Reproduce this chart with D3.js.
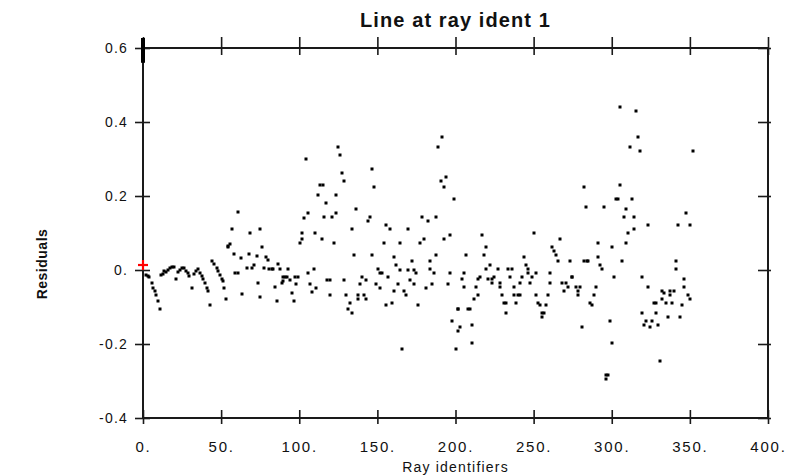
<!DOCTYPE html>
<html><head><meta charset="utf-8">
<script src="https://cdn.jsdelivr.net/npm/d3@7"></script>
<style>
html,body{margin:0;padding:0;background:#fff;}
svg text{font-family:"Liberation Sans",Arial,sans-serif;fill:#111;}
</style></head>
<body>
<svg id="chart" width="789" height="476"></svg>
<script>
const title = "Line at ray ident 1";
const xLabel = "Ray identifiers";
const yLabel = "Residuals";
const xTicks = [0, 50, 100, 150, 200, 250, 300, 350, 400];
const xTickLabels = ["0.", "50.", "100.", "150.", "200.", "250.", "300.", "350.", "400."];
const yTicks = [-0.4, -0.2, 0, 0.2, 0.4, 0.6];
const yTickLabels = ["-0.4", "-0.2", "0.", "0.2", "0.4", "0.6"];

// Highlighted (red) point
const refPoint = [0, 0.0135];
// Clipped value at the top of the range near x = 0 (drawn as a bar)
const clippedBar = [0, 0.56, 0.6];

// Residuals: [ray identifier, residual]
const groupA = [[1.7,-0.014],[3,-0.016],[4,-0.02],[5.5,-0.034],[6.6,-0.048],[7.7,-0.057],[8.3,-0.068],[9.4,-0.084],[10.9,-0.106]];
const groupB = [[11.5,-0.014],[13,-0.012],[13.4,-0.002],[14.5,-0.005],[15.8,-0.001],[17.3,0.005],[18.8,0.008],[20,0.009],[20.9,-0.025],[22.2,-0.005],[23.5,0.0],[24.7,0.006],[26.5,0.006],[27.3,-0.003],[28.6,-0.007],[29.4,-0.016],[31.1,-0.048],[32.5,-0.01],[33.7,-0.003],[35.4,0.002],[36.5,-0.007],[37.6,-0.016],[38.6,-0.025],[39.7,-0.034],[40.8,-0.048],[41.8,-0.057],[43.1,-0.095],[44.4,0.024],[45.6,0.017],[47.1,0.006],[48.2,-0.003],[49.3,-0.014],[50.3,-0.025],[51.4,-0.03],[52.1,-0.048],[53.1,-0.079]];
const groupC = [[54.2,0.065],[54.6,0.062],[55.7,0.071],[57.2,0.11],[58,0.044],[58.9,-0.007],[60.8,0.156],[61,-0.007],[62.7,0.032],[63.6,-0.066],[66.4,0.006],[68.1,0.042],[68.5,0.099],[70,0.006],[71.2,0.014],[72.7,0.038],[73.8,-0.034],[74.9,0.11],[74.9,-0.073],[76.4,0.062],[77.7,0.006],[78.7,0.035],[80.2,0.026],[80.9,0.004],[82.3,0.002],[83.4,0.002],[84.5,-0.046],[85.5,-0.084],[86.6,0.015],[87.9,0.002],[88.8,-0.034],[89.4,-0.03],[89.8,-0.02],[90.9,-0.02],[92.2,-0.02],[92.8,0.002],[94.1,-0.028],[95.6,-0.061],[96.4,-0.084],[97.3,-0.02],[97.9,-0.037],[99.4,-0.02]];
const groupD = [[191.6,0.36],[189,0.332],[125,0.332],[126,0.311],[104,0.30],[146.8,0.273],[127.4,0.262],[128.6,0.24],[190.5,0.24],[194,0.251],[192.8,0.224],[148,0.224],[113.3,0.23],[115,0.23],[112.2,0.203],[123.7,0.203],[199.2,0.192],[117.3,0.181],[136.5,0.165],[103,0.141],[105.8,0.153],[116,0.142],[121,0.142],[123.7,0.154],[144,0.132],[145.3,0.143],[178.8,0.143],[182.6,0.132],[187.7,0.143],[134,0.11],[155.5,0.121],[158.3,0.11],[169.8,0.11],[102,0.099],[101.6,0.083],[100.5,0.072],[110,0.099],[114.8,0.083],[122.4,0.072],[154.5,0.072],[164.7,0.072],[177.5,0.072],[180,0.083],[192.8,0.083],[196.7,0.094],[135.2,0.04],[146.8,0.04],[160.8,0.034],[187.7,0.04],[162,0.013],[172.3,0.024],[183.9,0.024],[109.6,0.002],[105.8,-0.009],[150.6,0.002],[151.9,-0.009],[153.1,-0.009],[164.7,0],[169.8,0],[173.6,0],[175,-0.009],[183.9,0.002],[186.4,-0.009],[196.7,-0.009],[107,-0.037],[110.7,-0.048],[108.2,-0.059],[118,-0.026],[119.7,-0.026],[128.6,-0.026],[140,-0.02],[142.9,-0.026],[139,-0.037],[157,-0.02],[163.4,-0.037],[149.3,-0.037],[151.9,-0.048],[171,-0.026],[173.6,-0.037],[181.3,-0.048],[185.2,-0.037],[195.4,-0.037],[119.7,-0.068],[130.1,-0.068],[137.8,-0.068],[137.8,-0.079],[141.6,-0.068],[142.9,-0.079],[160.8,-0.058],[167.2,-0.058],[168.5,-0.068],[132.5,-0.09],[131.2,-0.106],[134,-0.117],[155.7,-0.095],[159.6,-0.09],[176.2,-0.095],[201.8,-0.106],[198,-0.139],[201.8,-0.166],[165.9,-0.214],[200.5,-0.214]];
const groupE = [[282.4,0.224],[283.7,0.17],[217.2,0.095],[250.4,0.1],[267,0.084],[219.7,0.062],[218.4,0.04],[206.9,0.04],[262,0.062],[263.2,0.051],[264.5,0.04],[265.8,0.024],[273.5,0.024],[282.4,0.024],[284.2,0.024],[244,0.035],[222.3,0.013],[219.7,0.003],[227.4,0.003],[233.8,0.003],[236.4,0.003],[245.3,0.013],[246.6,0.003],[246.6,-0.008],[205.6,-0.008],[251.7,-0.008],[260.7,-0.008],[215.9,-0.019],[214.6,-0.024],[224.8,-0.019],[223.5,-0.024],[221,-0.024],[235.1,-0.019],[242.8,-0.019],[249.2,-0.019],[274.8,-0.019],[204.4,-0.024],[205.6,-0.046],[223.5,-0.035],[228.6,-0.035],[228.6,-0.046],[237.6,-0.046],[241.5,-0.035],[247.9,-0.035],[260.7,-0.035],[268.4,-0.035],[271,-0.035],[269.6,-0.057],[272.2,-0.046],[277.3,-0.046],[278.6,-0.057],[278.6,-0.068],[213.3,-0.046],[214.6,-0.068],[212,-0.078],[230,-0.068],[237.6,-0.068],[240.2,-0.068],[241.5,-0.068],[251.7,-0.068],[259.4,-0.068],[231.2,-0.089],[232.5,-0.089],[238.9,-0.089],[253,-0.089],[254.3,-0.095],[258.1,-0.095],[255.6,-0.116],[256.8,-0.116],[255.6,-0.127],[232.5,-0.116],[201.8,-0.105],[209.5,-0.105],[208.2,-0.105],[203.1,-0.154],[210.8,-0.149],[210.8,-0.197],[281.2,-0.154],[286.3,-0.089]];
const groupF = [[305.5,0.441],[315.7,0.43],[317,0.36],[311.9,0.332],[318.3,0.322],[352,0.322],[305.5,0.23],[302.9,0.192],[304.2,0.192],[313.1,0.192],[295.2,0.17],[309.3,0.165],[308,0.143],[314.4,0.143],[323.4,0.122],[342.6,0.122],[347.7,0.154],[350.3,0.122],[310.6,0.1],[314.4,0.111],[291.4,0.073],[300.4,0.062],[309.3,0.073],[291.4,0.035],[285,0.024],[306.8,0.024],[292.7,0.013],[294,0.003],[341.3,0.024],[341.3,0.003],[274.7,-0.019],[301.6,-0.019],[319.5,-0.019],[346.4,-0.024],[279.9,-0.046],[290.1,-0.046],[288.8,-0.068],[323.4,-0.046],[346.4,-0.046],[332.3,-0.057],[333.6,-0.062],[337.4,-0.057],[340,-0.057],[337.4,-0.068],[348.9,-0.068],[350.2,-0.078],[332.3,-0.078],[334.9,-0.089],[338.8,-0.089],[345.2,-0.095],[287.6,-0.095],[326.8,-0.089],[328.5,-0.089],[319.5,-0.116],[328.5,-0.116],[299.1,-0.138],[336.2,-0.127],[343.9,-0.127],[320.8,-0.149],[322.1,-0.138],[324.7,-0.154],[326,-0.138],[329.8,-0.149],[300.4,-0.197],[331.1,-0.246],[296.5,-0.284],[297.8,-0.284],[296.5,-0.295]];

const points = [].concat(groupA, groupB, groupC, groupD, groupE, groupF);

const svg = d3.select("#chart");
const L = 143, R = 768, T = 48, B = 418;
const x = d3.scaleLinear().domain([0, 400]).range([L, R]);
const y = d3.scaleLinear().domain([-0.4, 0.6]).range([B, T]);

const axisColor = "#1a1a1a";

// frame
const frame = svg.append("g").attr("stroke", axisColor).attr("stroke-width", 2).attr("fill", "none");
frame.append("rect").attr("x", x(0)).attr("y", y(0.6)).attr("width", x(400) - x(0)).attr("height", y(-0.4) - y(0.6));

// bottom axis (ticks crossing the frame)
const gB = svg.append("g").attr("transform", `translate(0,${B})`)
  .call(d3.axisBottom(x).tickValues(xTicks).tickSize(0).tickFormat((d, i) => xTickLabels[i]));
gB.select(".domain").remove();
gB.selectAll(".tick").append("line").attr("y1", -8).attr("y2", 6).attr("stroke", axisColor).attr("stroke-width", 1.6);
gB.selectAll("text").attr("dy", null).attr("y", 34).style("font-size", "15px").style("letter-spacing", "1.8px").attr("fill", "#222").attr("font-family", "Liberation Sans, Arial, sans-serif");

// top axis
const gT = svg.append("g").attr("transform", `translate(0,${T})`)
  .call(d3.axisTop(x).tickValues(xTicks).tickSize(0).tickFormat(""));
gT.select(".domain").remove();
gT.selectAll(".tick").append("line").attr("y1", -11).attr("y2", 7).attr("stroke", axisColor).attr("stroke-width", 1.6);

// left axis
const gL = svg.append("g").attr("transform", `translate(${L},0)`)
  .call(d3.axisLeft(y).tickValues(yTicks).tickSize(0).tickFormat((d, i) => yTickLabels[i]));
gL.select(".domain").remove();
gL.selectAll(".tick").append("line").attr("x1", -8).attr("x2", 7).attr("stroke", axisColor).attr("stroke-width", 1.6);
gL.selectAll("text").attr("x", -15).attr("dy", "0.32em").style("font-size", "14px").style("letter-spacing", "1.2px").attr("fill", "#222").attr("font-family", "Liberation Sans, Arial, sans-serif");

// right axis
const gR = svg.append("g").attr("transform", `translate(${R},0)`)
  .call(d3.axisRight(y).tickValues(yTicks).tickSize(0).tickFormat(""));
gR.select(".domain").remove();
gR.selectAll(".tick").append("line").attr("x1", -10).attr("x2", 3).attr("stroke", axisColor).attr("stroke-width", 1.6);

// clipped bar at top-left
svg.append("line").attr("x1", x(clippedBar[0])).attr("x2", x(clippedBar[0]))
  .attr("y1", y(clippedBar[2]) - 10).attr("y2", y(clippedBar[1]))
  .attr("stroke", "#000").attr("stroke-width", 4);

// points
svg.append("g").selectAll("rect").data(points).join("rect")
  .attr("x", d => Math.round(x(d[0])) - 1.5)
  .attr("y", d => Math.round(y(d[1])) - 1.5)
  .attr("width", 3).attr("height", 3).attr("fill", "#000");

// red reference cross
const rc = svg.append("g").attr("stroke", "#ff0000").attr("stroke-width", 2.2);
rc.append("line").attr("x1", x(refPoint[0]) - 5).attr("x2", x(refPoint[0]) + 5).attr("y1", y(refPoint[1])).attr("y2", y(refPoint[1]));
rc.append("line").attr("x1", x(refPoint[0])).attr("x2", x(refPoint[0])).attr("y1", y(refPoint[1]) - 5).attr("y2", y(refPoint[1]) + 5);

// titles
svg.append("text").attr("x", (L + R) / 2).attr("y", 27).attr("text-anchor", "middle")
  .style("font-size", "20px").style("font-weight", "bold").style("letter-spacing", "1.1px").text(title);
svg.append("text").attr("x", (L + R) / 2).attr("y", 472).attr("text-anchor", "middle")
  .style("font-size", "14px").style("letter-spacing", "1.2px").text(xLabel);
svg.append("text").attr("transform", `translate(47,264) rotate(-90)`).attr("text-anchor", "middle")
  .style("font-size", "14px").style("font-weight", "bold").style("letter-spacing", "0.5px").text(yLabel);
</script>
</body></html>
